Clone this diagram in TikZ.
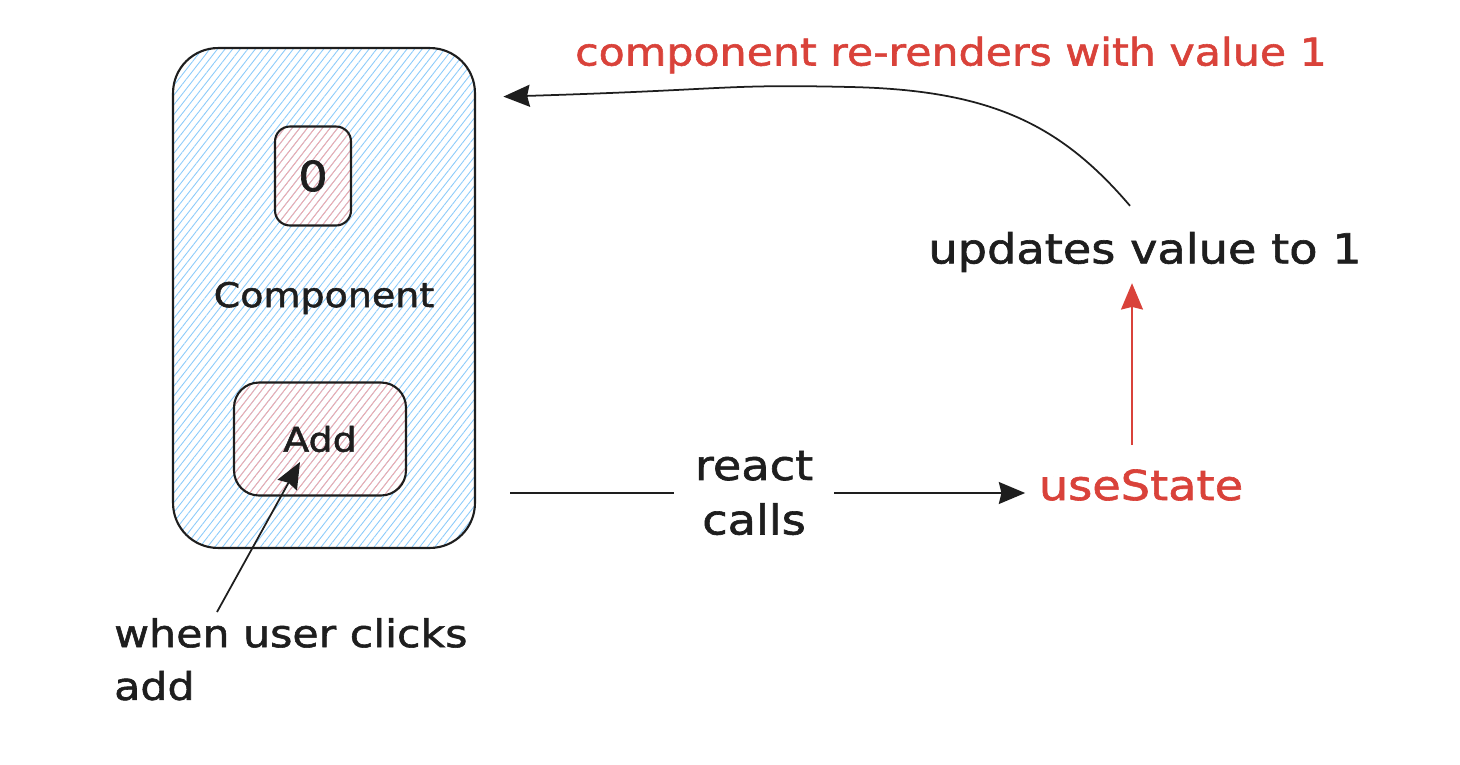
\documentclass[tikz,border=0pt]{standalone}
\usepackage{fontspec}
\newfontfamily\handfont[FakeStretch=1.12,FakeBold=1.5]{DejaVu Sans}
\usetikzlibrary{calc}
\usetikzlibrary{arrows.meta}
\usetikzlibrary{patterns.meta}
\definecolor{ink}{HTML}{1E1E1E}
\definecolor{inkred}{HTML}{D9423A}
\definecolor{hatchblue}{HTML}{8CCBFA}
\definecolor{hatchred}{HTML}{F7A8A8}
\tikzset{
 hand/.style={font=\handfont\fontsize{21.7}{30}\selectfont, text=ink},
 handbig/.style={font=\handfont\fontsize{23.5}{31}\selectfont, text=ink},
 handsmall/.style={font=\handfont\fontsize{19.3}{24}\selectfont, text=ink},
 box/.style={draw=ink, line width=1.2pt, rounded corners=#1},
 bluehatch/.style={pattern={Lines[angle=52,distance=3.4pt,line width=0.5pt]}, pattern color=hatchblue},
 redhatch/.style={pattern={Lines[angle=52,distance=3.4pt,line width=0.5pt]}, pattern color=hatchred},
 arr/.style={draw=ink, line width=1pt, ->, >={Stealth[length=15pt,width=12.5pt,inset=1.5pt]}},
}
\begin{document}
\begin{tikzpicture}[x=0.02cm, y=-0.02cm]
\useasboundingbox (0,0) rectangle (1460,764);
\node[box=0.9cm, bluehatch, minimum width=6.04cm, minimum height=10cm, handsmall] (comp) at (324,298) {Component};
\node[box=0.3cm, redhatch, minimum width=1.52cm, minimum height=1.98cm, handbig] (zero) at (313,176) {0};
\node[box=0.5cm, redhatch, minimum width=3.44cm, minimum height=2.26cm, handsmall] (addbtn) at (320,439) {Add};
\node[hand, align=left, anchor=north west] (clicknote) at (108,612) {when user clicks\\add};
\node[hand, text=inkred] (rerender) at (951,55) {component re-renders with value 1};
\node[handbig] (upd) at (1145,252) {updates value to 1};
\node[handbig, text=inkred] (usestate) at (1141,485) {useState};
\coordinate (bend) at (850,87);

\draw[arr] ($(clicknote.north west)+(109,0)$) -- ($(addbtn.center)+(-20,23)$);
\draw[arr, shorten <=0.7cm, shorten >=0.15cm] ($(comp.east |- usestate.west)+(0,8)$) -- node[handbig, fill=white, align=center, inner xsep=12pt] (calls) {react\\calls} ($(usestate.west)+(0,8)$);
\draw[arr, draw=inkred, shorten <=0.36cm, shorten >=0.1cm] ([xshift=-0.18cm]usestate.north) -- ([xshift=-0.18cm]usestate.north |- upd.south);
\draw[arr] ($(upd.north)+(-15,-20)$) .. controls +(-70,-82) and +(140,3) .. (bend) .. controls +(-130,-3) and +(230,-7) .. ($(comp.north east)+(28,49)$);
\end{tikzpicture}
\end{document}
